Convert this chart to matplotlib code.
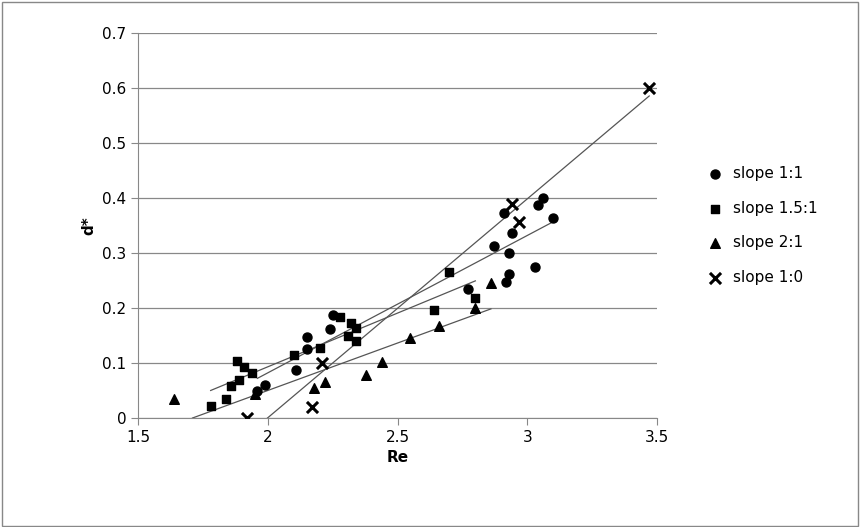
import matplotlib
matplotlib.use("Agg")
import matplotlib.pyplot as plt
import numpy as np

c_x=[1.96,1.99,2.11,2.15,2.15,2.24,2.25,2.77,2.87,2.91,2.92,2.93,2.93,2.94,3.03,3.04,3.06,3.10]
c_y=[0.05,0.06,0.088,0.125,0.148,0.162,0.187,0.235,0.312,0.373,0.248,0.262,0.30,0.336,0.275,0.388,0.40,0.363]
s_x=[1.78,1.84,1.86,1.89,1.88,1.91,1.94,2.10,2.20,2.28,2.31,2.32,2.34,2.34,2.70,2.64,2.80]
s_y=[0.022,0.035,0.058,0.07,0.103,0.093,0.082,0.115,0.127,0.183,0.15,0.172,0.14,0.163,0.265,0.197,0.218]
t_x=[1.64,1.95,2.18,2.22,2.38,2.44,2.55,2.66,2.80,2.86]
t_y=[0.035,0.043,0.055,0.066,0.078,0.101,0.145,0.167,0.200,0.245]
x_x=[1.92,2.17,2.21,2.94,2.97,3.47]
x_y=[0.0,0.02,0.10,0.39,0.357,0.60]

fig=plt.figure(figsize=(8.61,5.27),dpi=100)
ax=fig.add_axes([138/861,1-418/527,(657-138)/861,(418-33)/527])
series=[(c_x,c_y,'o','slope 1:1',42),(s_x,s_y,'s','slope 1.5:1',36),(t_x,t_y,'^','slope 2:1',48),(x_x,x_y,'x','slope 1:0',64)]
for xs,ys,m,lab,sz in series:
    xs=np.array(xs);ys=np.array(ys)
    if m=='x':
        ax.scatter(xs,ys,marker=m,s=sz,c='black',linewidths=2.2,label=lab,zorder=3)
    else:
        ax.scatter(xs,ys,marker=m,s=sz,c='black',label=lab,zorder=3)
    k,b=np.polyfit(xs,ys,1)
    x0=max(xs.min(),-b/k);x1=xs.max()
    ax.plot([x0,x1],[k*x0+b,k*x1+b],color='#555555',lw=0.9,zorder=2)
ax.set_xlim(1.5,3.5);ax.set_ylim(0,0.7)
ax.set_xticks([1.5,2,2.5,3,3.5]);ax.set_xticklabels(['1.5','2','2.5','3','3.5'])
ax.set_yticks(np.arange(0,0.71,0.1));ax.set_yticklabels(['0','0.1','0.2','0.3','0.4','0.5','0.6','0.7'])
ax.grid(axis='y',color='#888888',lw=0.9)
ax.set_axisbelow(True)
for s in ['top','right']: ax.spines[s].set_visible(False)
for s in ['left','bottom']: ax.spines[s].set_color('#888888')
ax.tick_params(labelsize=11,color='#888888',direction='out',length=5)
ax.set_xlabel('Re',fontsize=11,fontweight='bold')
ax.set_ylabel('d*',fontsize=11,fontweight='bold')
ax.legend(loc='center left',bbox_to_anchor=(1.07,0.5),frameon=False,fontsize=11,labelspacing=1.3,handletextpad=0.2,borderaxespad=0)
fig.patches.append(plt.Rectangle((0.002,0.002),0.995,0.995,transform=fig.transFigure,fill=False,edgecolor='#888888',lw=1))
fig.savefig('out.png',dpi=100)
